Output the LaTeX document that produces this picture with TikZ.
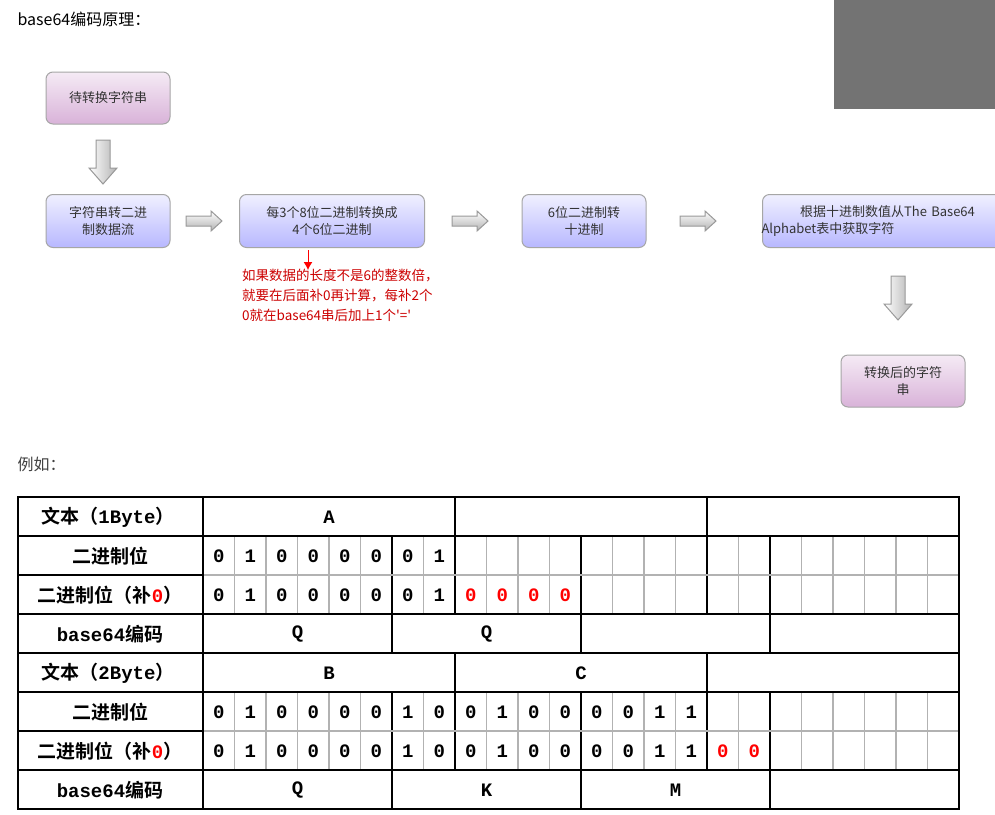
\documentclass[tikz,border=0pt]{standalone}
\usepackage{fontspec}
\usetikzlibrary{arrows.meta}
\setmainfont{Liberation Sans}
\newfontfamily\cjk{Noto Sans CJK SC}
\newfontfamily\cjkb{Noto Sans CJK SC Bold}
\newfontfamily\mono{Liberation Mono}
\begin{document}
\begin{tikzpicture}[x=1pt,y=-1pt,
  box/.style={draw=gray!70,line width=1pt,rounded corners=7pt,inner sep=2pt,align=center,font=\cjk\fontsize{13}{17}\selectfont,text=black!80},
  pbox/.style={box,top color=violet!8,bottom color=violet!30},
  bbox/.style={box,top color=blue!6,bottom color=blue!28},
  harr/.style={draw=gray!80,line width=1pt,top color=white,bottom color=gray!60},
  varr/.style={draw=gray!80,line width=1pt,left color=white,right color=gray!60},
  tk/.style={line width=1.8pt,black},
  tn/.style={line width=1.2pt,gray!60},
  tl/.style={font=\cjkb\fontsize{19}{21}\selectfont},
  bit/.style={font=\mono\bfseries\fontsize{19}{21}\selectfont}]
\useasboundingbox (0,0) rectangle (995,814);
\fill[white] (0,0) rectangle (995,814);
\fill[black!55] (834,0) rectangle (995,109);
\node[anchor=west,font=\cjk\fontsize{16}{18}\selectfont] (title) at (14,19) {base64编码原理：};
\node[anchor=west,font=\cjk\fontsize{16}{18}\selectfont,text=black!75] (eg) at (14,464) {例如：};
% flowchart boxes
\node[pbox,minimum width=124,minimum height=52] (b1) at (108,98) {待转换字符串};
\node[bbox,minimum width=124,minimum height=53] (b2) at (108,221) {字符串转二进\\制数据流};
\node[bbox,minimum width=185,minimum height=53] (b3) at (332,221) {每3个8位二进制转换成\\4个6位二进制};
\node[bbox,minimum width=124,minimum height=53] (b4) at (584,221) {6位二进制转\\十进制};
\node[bbox,minimum width=250,minimum height=53,anchor=west,text width=240] (b5) at (762,221) {根据十进制数值从The Base64\\\hspace*{-6pt}Alphabet表中获取字符\hspace*{-2pt}\hfill\mbox{}};
\node[pbox,minimum width=124,minimum height=52] (b6) at (903,381) {转换后的字符\\串};
% hollow arrows
\path[varr] (96,140) -- (110,140) -- (110,168) -- (117,168) -- (103,184) -- (89,168) -- (96,168) -- cycle;
\path[harr] (186,216) -- (211,216) -- (211,211) -- (222,221) -- (211,231) -- (211,226) -- (186,226) -- cycle;
\path[harr] (452,216) -- (477,216) -- (477,211) -- (488,221) -- (477,231) -- (477,226) -- (452,226) -- cycle;
\path[harr] (680,216) -- (705,216) -- (705,211) -- (716,221) -- (705,231) -- (705,226) -- (680,226) -- cycle;
\path[varr] (891,276) -- (905,276) -- (905,304) -- (912,304) -- (898,320) -- (884,304) -- (891,304) -- cycle;
% red note
\coordinate (rn) at (308,270);
\coordinate (rs) at (308,250);
\draw[red,line width=1pt,-{Latex[length=8pt,width=9pt]}] (rs) -- (rn);
\node[anchor=north west,align=left,text=red!80!black,font=\cjk\fontsize{13.5}{20}\selectfont,inner sep=0] (note) at (242,269) {如果数据的长度不是6的整数倍，\\就要在后面补0再计算，每补2个\\0就在base64串后加上1个'='};
% table
\foreach \r in {1,2,5,6}{
  \foreach \i in {1,...,23}{\draw[tn] ({203+31.5*\i},{497+39*\r}) -- ({203+31.5*\i},{536+39*\r});}
  \foreach \xx in {392,455,581,707,770}{\draw[tk] (\xx,{497+39*\r}) -- (\xx,{536+39*\r});}
}
\foreach \r in {2,6}{\draw[tn] (204,{497+39*\r}) -- (958,{497+39*\r});}
\foreach \r in {0,4}{\foreach \xx in {455,707}{\draw[tk] (\xx,{497+39*\r}) -- (\xx,{536+39*\r});}}
\foreach \r in {3,7}{\foreach \xx in {392,581,770}{\draw[tk] (\xx,{497+39*\r}) -- (\xx,{536+39*\r});}}
\foreach \r in {1,3,4,5,7}{\draw[tk] (18,{497+39*\r}) -- (959,{497+39*\r});}
\foreach \r in {2,6}{\draw[tk] (18,{497+39*\r}) -- (203,{497+39*\r});}
\draw[tk] (203,497) -- (203,809);
\draw[line width=2.4pt] (18,497) rectangle (959,809);
% labels
\node[tl] (l0) at (108,517) {文本（{\mono\bfseries 1Byte}）};
\node[tl] (l1) at (110,556) {二进制位};
\node[tl] (l2) at (110,595) {二进制位（补{\mono\bfseries\color{red}0}）};
\node[tl] (l3) at (110,634) {{\mono\bfseries base64}编码};
\node[tl] (l4) at (108,673) {文本（{\mono\bfseries 2Byte}）};
\node[tl] (l5) at (110,712) {二进制位};
\node[tl] (l6) at (110,751) {二进制位（补{\mono\bfseries\color{red}0}）};
\node[tl] (l7) at (110,790) {{\mono\bfseries base64}编码};
\node[bit] (tA) at (329,517) {A};
\node[bit] (tB) at (329,673) {B};
\node[bit] (tC) at (581,673) {C};
\node[bit] (q1) at (297.5,634) {Q};
\node[bit] (q2) at (486.5,634) {Q};
\node[bit] (q3) at (297.5,790) {Q};
\node[bit] (k3) at (486.5,790) {K};
\node[bit] (m3) at (675.5,790) {M};
\foreach \b [count=\i from 0] in {0,1,0,0,0,0,0,1}{
  \node[bit] (p\i) at ({218.75+31.5*\i},556) {\b};
  \node[bit] (s\i) at ({218.75+31.5*\i},595) {\b};}
\foreach \i in {8,...,11}{\node[bit,text=red] (z\i) at ({218.75+31.5*\i},595) {0};}
\foreach \b [count=\i from 0] in {0,1,0,0,0,0,1,0,0,1,0,0,0,0,1,1}{
  \node[bit] (u\i) at ({218.75+31.5*\i},712) {\b};
  \node[bit] (v\i) at ({218.75+31.5*\i},751) {\b};}
\foreach \i in {16,17}{\node[bit,text=red] (w\i) at ({218.75+31.5*\i},751) {0};}
\end{tikzpicture}
\end{document}
